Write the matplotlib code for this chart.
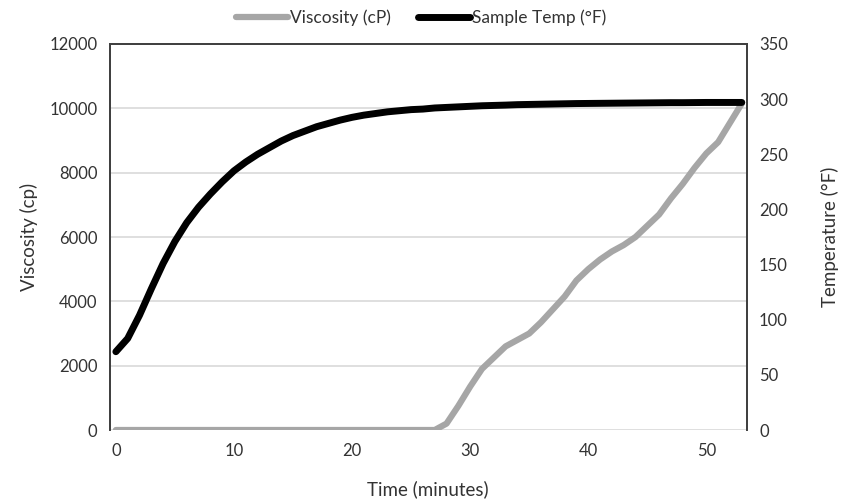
import matplotlib.pyplot as plt

plt.rcParams['font.family'] = ['Lato', 'DejaVu Sans']

# time in minutes (one reading per minute)
minutes = list(range(54))

viscosity_cp = [0] * 28 + [
    200, 750, 1350, 1900, 2250, 2600, 2800, 3000, 3350, 3750,
    4150, 4650, 5000, 5300, 5550, 5750, 6000, 6350, 6700, 7200,
    7650, 8150, 8600, 8950, 9550, 10150,
]

sample_temp_f = [
    71, 83, 104, 128, 151, 171, 188, 202, 214, 225,
    235, 243, 250, 256, 262, 267, 271, 275, 278, 281,
    283.5, 285.5, 287, 288.5, 289.5, 290.5, 291, 292, 292.5, 293,
    293.5, 294, 294.3, 294.6, 295, 295.2, 295.4, 295.6, 295.8, 296,
    296.1, 296.2, 296.3, 296.4, 296.5, 296.6, 296.7, 296.8, 296.8, 296.9,
    297, 297, 297, 297,
]

visc_ticks = [0, 2000, 4000, 6000, 8000, 10000, 12000]
temp_ticks = [0, 50, 100, 150, 200, 250, 300, 350]
time_ticks = [0, 10, 20, 30, 40, 50]

text_color = '#333333'
spine_color = '#404040'

fig = plt.figure(figsize=(8.42, 5.04), dpi=100)
ax = fig.add_axes([0.1306, 0.1468, 0.7560, 0.7659])
ax2 = ax.twinx()

l1, = ax.plot(minutes, viscosity_cp, color='#a6a6a6', lw=4.5,
              solid_capstyle='round', solid_joinstyle='round',
              label='Viscosity (cP)')
l2, = ax2.plot(minutes, sample_temp_f, color='black', lw=5,
               solid_capstyle='round', solid_joinstyle='round',
               label='Sample Temp (°F)')

ax.set_xlim(-0.5, 53.4)
ax.set_ylim(0, 12000)
ax2.set_ylim(0, 350)
ax.set_xticks(time_ticks)
ax.set_yticks(visc_ticks)
ax2.set_yticks(temp_ticks)

ax.grid(axis='y', color='#d9d9d9', lw=1.2)
ax.set_axisbelow(True)

for a in (ax, ax2):
    a.tick_params(length=0, labelsize=12, colors=text_color, pad=9)
    a.spines['bottom'].set_visible(False)
    for s in ('left', 'top', 'right'):
        a.spines[s].set_color(spine_color)
        a.spines[s].set_linewidth(1.3)

ax.set_xlabel('Time (minutes)', fontsize=13.5, color=text_color, labelpad=16)
ax.set_ylabel('Viscosity (cp)', fontsize=13.5, color=text_color, labelpad=8)
ax2.set_ylabel('Temperature (°F)', fontsize=13.5, color=text_color, labelpad=24)

fig.legend(handles=[l1, l2], loc='upper center', bbox_to_anchor=(0.5, 1.012),
           ncol=2, frameon=False, fontsize=12.5, handlelength=3.0,
           handletextpad=0.1, columnspacing=1.6, labelcolor=text_color)

fig.savefig('out.png', dpi=100)
